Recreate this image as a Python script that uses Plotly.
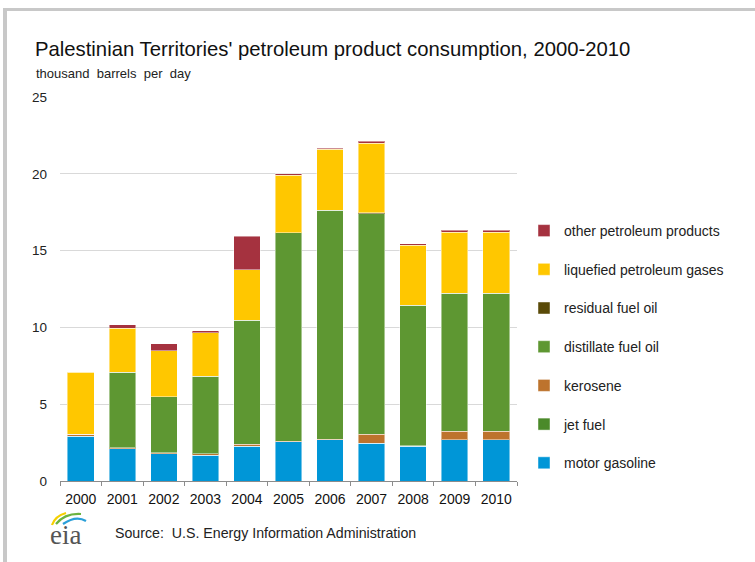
import plotly.graph_objects as go

years = ["2000", "2001", "2002", "2003", "2004", "2005", "2006", "2007", "2008", "2009", "2010"]
motor_gasoline = [2.91, 2.10, 1.78, 1.69, 2.26, 2.56, 2.69, 2.47, 2.26, 2.69, 2.69]
jet_fuel = [0, 0, 0, 0, 0, 0, 0, 0, 0, 0, 0]
kerosene = [0.12, 0.07, 0.07, 0.09, 0.13, 0.04, 0.04, 0.57, 0.04, 0.54, 0.54]
distillate_fuel_oil = [0.0, 4.90, 3.62, 5.03, 8.07, 13.55, 14.89, 14.36, 9.14, 8.99, 8.99]
residual_fuel_oil = [0, 0, 0, 0, 0, 0, 0, 0.05, 0, 0, 0]
lpg = [4.04, 2.89, 3.02, 2.85, 3.30, 3.77, 3.99, 4.55, 3.92, 3.97, 3.97]
other_products = [0.0, 0.22, 0.43, 0.11, 2.17, 0.09, 0.07, 0.13, 0.09, 0.15, 0.15]

series = [
    ("motor gasoline", motor_gasoline, "#0096d7"),
    ("jet fuel", jet_fuel, "#4b8a2a"),
    ("kerosene", kerosene, "#bd732d"),
    ("distillate fuel oil", distillate_fuel_oil, "#5e9732"),
    ("residual fuel oil", residual_fuel_oil, "#5a4a08"),
    ("liquefied petroleum gases", lpg, "#ffc700"),
    ("other petroleum products", other_products, "#a5323f"),
]

FONT = "Liberation Sans, Arial, sans-serif"
W, H = 755, 562
ML, MR, MT, MB = 60, 238, 97, 81
PW, PH = W - ML - MR, H - MT - MB


def px(x):
    return (x - ML) / PW


def py(y):
    return (H - MB - y) / PH


fig = go.Figure()
for i, (name, vals, color) in enumerate(series):
    fig.add_trace(go.Bar(
        x=years, y=vals, name=name, legendgroup=name, legendrank=100 - i,
        marker=dict(color=color, line=dict(color="rgba(255,255,255,0.45)", width=1)),
    ))

fig.update_layout(
    width=W, height=H, barmode="stack", bargap=0.36,
    plot_bgcolor="white", paper_bgcolor="white",
    margin=dict(l=ML, r=MR, t=MT, b=MB),
    font=dict(family=FONT, size=12, color="#222"),
    title=dict(text="Palestinian Territories' petroleum product consumption, 2000-2010",
               x=35 / W, xanchor="left", xref="container",
               y=1 - 49 / H, yanchor="middle", yref="container",
               font=dict(family=FONT, size=20.3, color="#111")),
    legend=dict(x=px(524), xanchor="left", y=py(215), yanchor="top",
                traceorder="grouped", tracegroupgap=17.5,
                font=dict(family=FONT, size=14, color="#222"),
                bgcolor="rgba(0,0,0,0)"),
    showlegend=True,
)
fig.update_yaxes(range=[0, 25], dtick=5, showgrid=True, gridcolor="#d9d9d9", gridwidth=1,
                 zeroline=False, showline=False, ticks="", ticklabelstandoff=12,
                 tickfont=dict(family=FONT, size=13.5, color="#222"), fixedrange=True)
fig.update_xaxes(showline=True, linecolor="#8c8c8c", linewidth=1, ticks="outside",
                 tickson="boundaries", ticklen=4, tickcolor="#8c8c8c", ticklabelstandoff=5,
                 tickfont=dict(family=FONT, size=14, color="#111"), fixedrange=True)

fig.add_annotation(text="thousand  barrels  per  day", x=px(34), y=py(73), xref="paper", yref="paper",
                   xanchor="left", yanchor="middle", showarrow=False,
                   font=dict(family=FONT, size=13, color="#222"))
fig.add_annotation(text="Source:  U.S. Energy Information Administration", x=px(113), y=py(533),
                   xref="paper", yref="paper", xanchor="left", yanchor="middle", showarrow=False,
                   font=dict(family=FONT, size=14.2, color="#222"))
# eia logo
fig.add_annotation(text="eia", x=px(65), y=py(535), xref="paper", yref="paper",
                   xanchor="center", yanchor="middle", showarrow=False,
                   font=dict(family="Liberation Serif, serif", size=27, color="#555"))


def path(points):
    (x0, y0), (cx, cy), (x1, y1) = points
    return f"M {px(x0)} {py(y0)} Q {px(cx)} {py(cy)} {px(x1)} {py(y1)}"


for pts, col in [
    (((52, 525), (55, 516), (66, 513)), "#f5d000"),
    (((56, 524), (65, 513), (81, 514)), "#6bb33f"),
    (((63, 524), (76, 515), (86, 521)), "#2a9fd8"),
]:
    fig.add_shape(type="path", path=path(pts), xref="paper", yref="paper",
                  line=dict(color=col, width=2.2))

# frame
fig.add_shape(type="line", xref="paper", yref="paper", x0=px(3), x1=px(W + 5), y0=py(9.5), y1=py(9.5),
              line=dict(color="#c8c8c8", width=3))
fig.add_shape(type="line", xref="paper", yref="paper", x0=px(5), x1=px(5), y0=py(8), y1=py(H + 5),
              line=dict(color="#c8c8c8", width=4))

fig.write_html("out.html", config={"displayModeBar": False},
               post_script="document.body.style.margin='0px';")
